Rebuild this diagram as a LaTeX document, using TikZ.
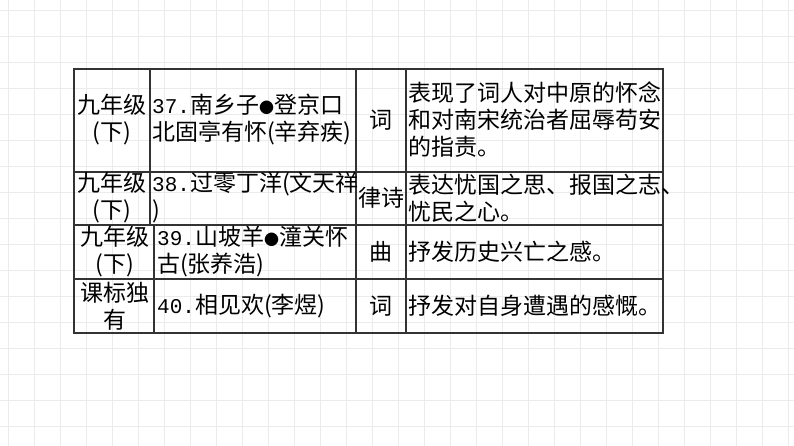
\documentclass[tikz,border=0pt]{standalone}
\usepackage{fontspec}
\setmainfont{Noto Sans CJK SC}
\newfontfamily\numf{Liberation Mono}
\newcommand{\dotb}{{\fontsize{15}{15}\selectfont●}}
\begin{document}
\begin{tikzpicture}[x=1pt,y=-1pt,
  cell/.style={inner sep=0pt,font=\fontsize{23}{27}\selectfont},
  tl/.style={line width=1.2pt,draw=black!80}]
\useasboundingbox (0,0) rectangle (794,446);
\fill[white] (0,0) rectangle (794,446);
\foreach \i in {0,...,31} {\draw[black!8,line width=0.5pt] (\i*26+8,0) -- (\i*26+8,446);}
\foreach \j in {0,...,17} {\draw[black!8,line width=0.5pt] (0,\j*26+10) -- (794,\j*26+10);}
% table lines
\draw[tl] (74,69) rectangle (663,333);
\draw[tl] (74,172) -- (663,172);
\draw[tl] (74,225) -- (663,225);
\draw[tl] (74,279) -- (663,279);
\draw[tl] (150,69) -- (150,225);
\draw[tl] (154,225) -- (154,333);
\draw[tl] (356,69) -- (356,333);
\draw[tl] (406,69) -- (406,333);
% row 1
\node[cell,align=center] (a1) at (112,120) {九年级\\(下)};
\node[cell,align=left,anchor=west] (b1) at (152,120) {{\numf\fontsize{21}{27}\selectfont 37.}南乡子\dotb 登京口\\北固亭有怀(辛弃疾)};
\node[cell] (c1) at (381,120) {词};
\node[cell,align=left,anchor=west] (d1) at (408,120) {表现了词人对中原的怀念\\和对南宋统治者屈辱苟安\\的指责。};
% row 2
\node[cell,align=center] (a2) at (112,198) {九年级\\(下)};
\node[cell,align=left,anchor=west] (b2) at (152,198) {{\numf\fontsize{21}{27}\selectfont 38.}过零丁洋(文天祥\\)};
\node[cell] (c2) at (381,198) {律诗};
\node[cell,align=left,anchor=west] (d2) at (408,198) {表达忧国之思、报国之志、\\忧民之心。};
% row 3
\node[cell,align=center] (a3) at (115,252) {九年级\\(下)};
\node[cell,align=left,anchor=west] (b3) at (157,252) {{\numf\fontsize{21}{27}\selectfont 39.}山坡羊\dotb 潼关怀\\古(张养浩)};
\node[cell] (c3) at (381,252) {曲};
\node[cell,align=left,anchor=west] (d3) at (408,252) {抒发历史兴亡之感。};
% row 4
\node[cell,align=center] (a4) at (115,306) {课标独\\有};
\node[cell,align=left,anchor=west] (b4) at (157,306) {{\numf\fontsize{21}{27}\selectfont 40.}相见欢(李煜)};
\node[cell] (c4) at (381,306) {词};
\node[cell,align=left,anchor=west] (d4) at (408,306) {抒发对自身遭遇的感慨。};
\end{tikzpicture}
\end{document}
